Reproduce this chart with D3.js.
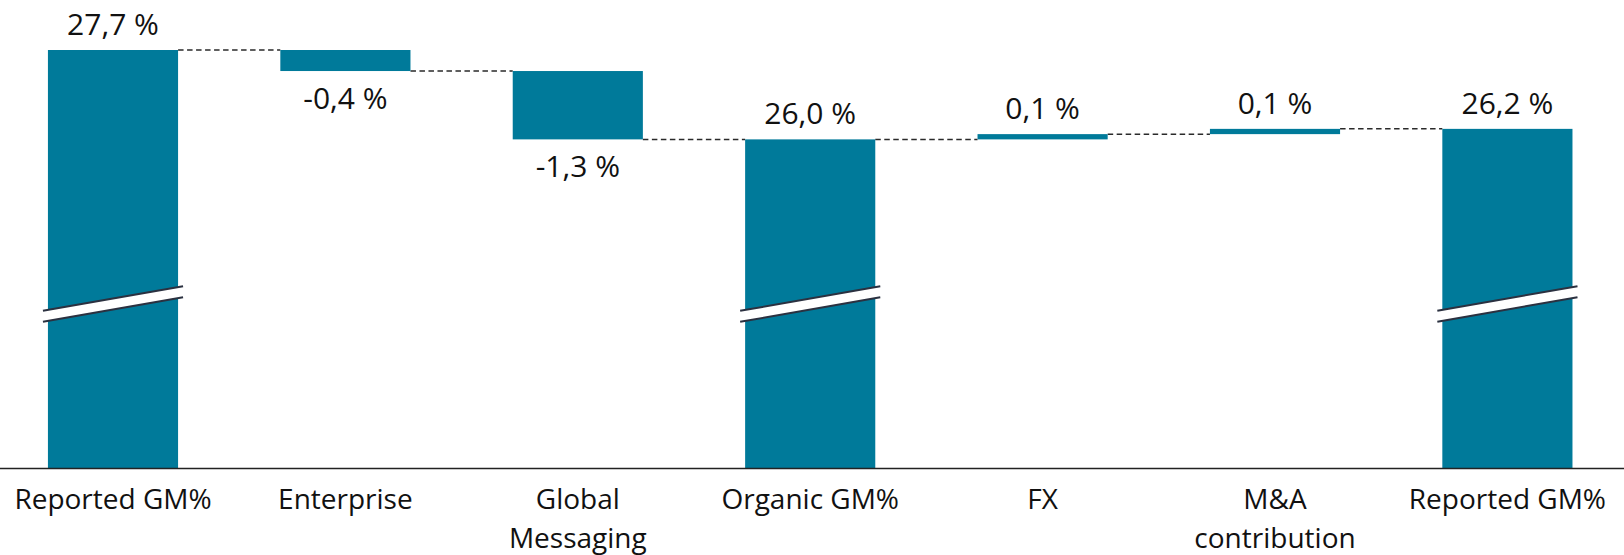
<!DOCTYPE html>
<html>
<head>
<meta charset="utf-8">
<script src="https://cdn.jsdelivr.net/npm/d3@7"></script>
<style>
  html, body { margin: 0; padding: 0; background: #fff; }
  svg { display: block; font-family: "Open Sans", "Noto Sans", sans-serif; }
</style>
</head>
<body>
<svg id="chart" width="1624" height="555"></svg>
<script>
// Gross margin bridge (waterfall), values in percent
const categories = ["Reported GM%", "Enterprise", "Global\nMessaging", "Organic GM%", "FX", "M&A\ncontribution", "Reported GM%"];
const values     = [27.7, -0.4, -1.3, 26.0, 0.1, 0.1, 26.2];
const barTypes   = ["total", "delta", "delta", "total", "delta", "delta", "total"];

// Visible slice of the value axis (the totals are drawn with an axis break)
const yDomain = [19.75, 27.7];

const width = 1624, height = 555;
const axisY = 468, topY = 50;
const barColor = "#007a9a";

const svg = d3.select("#chart");

const x = d3.scaleBand()
  .domain(d3.range(categories.length))
  .range([-3.2, 1623.6])
  .paddingInner(0.44)
  .paddingOuter(0.22);

const y = d3.scaleLinear().domain(yDomain).range([axisY, topY]);

// Build waterfall segments
let level = yDomain[0];
const bars = values.map((v, i) => {
  let start, end;
  if (barTypes[i] === "total") { start = yDomain[0]; end = v; level = v; }
  else { start = level; end = level + v; level = end; }
  return { i, v, type: barTypes[i], start, end, level };
});

const fmt = d3.formatLocale({ decimal: ",", thousands: " ", grouping: [3], currency: ["", ""], minus: "-" }).format(".1f");

// Dashed connectors between consecutive bars
svg.append("g")
  .selectAll("line")
  .data(bars.slice(0, -1))
  .join("line")
  .attr("x1", d => x(d.i) + x.bandwidth())
  .attr("x2", d => x(d.i + 1))
  .attr("y1", d => y(d.level))
  .attr("y2", d => y(d.level))
  .attr("stroke", "#2a2a2a")
  .attr("stroke-width", 1.5)
  .attr("stroke-dasharray", "5.5,3.5");

// Bars
svg.append("g")
  .selectAll("rect")
  .data(bars)
  .join("rect")
  .attr("x", d => x(d.i))
  .attr("width", x.bandwidth())
  .attr("y", d => y(Math.max(d.start, d.end)))
  .attr("height", d => Math.abs(y(d.start) - y(d.end)))
  .attr("fill", barColor);

// Axis break marks on the total bars
const breakCenterY = 304, breakRise = 12.35, breakGap = 11, breakOverhang = 5;
const breaks = svg.append("g")
  .selectAll("g")
  .data(bars.filter(d => d.type === "total"))
  .join("g");

breaks.append("path")
  .attr("d", d => {
    const x0 = x(d.i) - breakOverhang, x1 = x(d.i) + x.bandwidth() + breakOverhang;
    const yl = breakCenterY + breakRise - breakGap / 2, yr = breakCenterY - breakRise - breakGap / 2;
    return `M${x0},${yl}L${x1},${yr}L${x1},${yr + breakGap}L${x0},${yl + breakGap}Z`;
  })
  .attr("fill", "#fff");

[0, 1].forEach(k => {
  breaks.append("line")
    .attr("x1", d => x(d.i) - breakOverhang)
    .attr("x2", d => x(d.i) + x.bandwidth() + breakOverhang)
    .attr("y1", breakCenterY + breakRise - breakGap / 2 + k * breakGap)
    .attr("y2", breakCenterY - breakRise - breakGap / 2 + k * breakGap)
    .attr("stroke", "#2b3140")
    .attr("stroke-width", 2);
});

// Value labels: above rising/total bars, below falling bars
svg.append("g")
  .selectAll("text")
  .data(bars)
  .join("text")
  .attr("x", d => x(d.i) + x.bandwidth() / 2)
  .attr("y", d => d.v < 0 ? y(d.end) + 37.5 : y(Math.max(d.start, d.end)) - 15)
  .attr("text-anchor", "middle")
  .attr("font-size", 30)
  .attr("fill", "#111")
  .text(d => fmt(d.v) + " %");

// Category axis
const axis = svg.append("g")
  .attr("transform", `translate(0,${axisY})`)
  .call(d3.axisBottom(x).tickSize(0).tickSizeOuter(0).tickFormat(i => categories[i]));

axis.select(".domain").attr("stroke", "#222").attr("stroke-width", 1.3);
axis.selectAll(".tick text")
  .attr("font-family", "\"Open Sans\", \"Noto Sans\", sans-serif")
  .attr("font-size", 28)
  .attr("fill", "#111")
  .attr("dy", null)
  .attr("y", null)
  .each(function (i) {
    const t = d3.select(this);
    const lines = categories[i].split("\n");
    t.text(null);
    lines.forEach((ln, k) => {
      t.append("tspan").attr("x", 0).attr("y", 41.3 + k * 39).text(ln);
    });
  });
</script>
</body>
</html>
